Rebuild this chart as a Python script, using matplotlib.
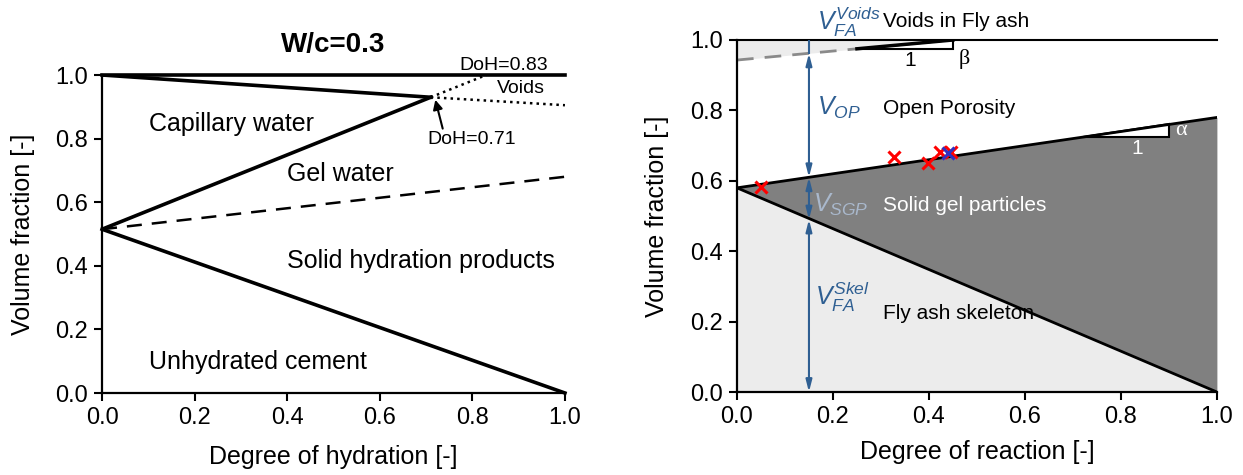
import matplotlib
matplotlib.use('Agg')
import matplotlib.pyplot as plt

plt.rcParams['font.family'] = ['Liberation Sans', 'DejaVu Sans']
plt.rcParams['mathtext.fontset'] = 'custom'
plt.rcParams['mathtext.rm'] = 'Liberation Sans'
plt.rcParams['mathtext.it'] = 'Liberation Sans:italic'

# ---- left panel: cement paste, w/c = 0.3 ----
top_x, top_y = [0, 1], [1.0, 1.0]
cap_x, cap_y = [0, 0.71], [1.0, 0.93]
gel_x, gel_y = [0, 0.71], [0.515, 0.93]
cem_x, cem_y = [0, 1], [0.515, 0.0]
gelw_x, gelw_y = [0, 1], [0.515, 0.68]
void_up_x, void_up_y = [0.71, 0.83], [0.93, 1.0]
void_lo_x, void_lo_y = [0.71, 1.0], [0.93, 0.905]

# ---- right panel: fly ash ----
fa_void_x = [0, 0.25, 0.45]
fa_void_y = [0.943, 0.975, 1.0]
sgp_top_x, sgp_top_y = [0, 1], [0.58, 0.78]
skel_x, skel_y = [0, 1], [0.58, 0.0]
meas_x = [0.051, 0.327, 0.399, 0.422, 0.447]
meas_y = [0.583, 0.668, 0.651, 0.683, 0.683]
meas2_x, meas2_y = [0.44], [0.68]
arrow_x = 0.15
arrow_y = [0.0, 0.49, 0.61, 0.962, 1.0]

ticks = [0.0, 0.2, 0.4, 0.6, 0.8, 1.0]
tick_labels = ['0.0', '0.2', '0.4', '0.6', '0.8', '1.0']

LIGHT = '#ececec'
DARK = '#808080'
BLUE = '#2f5f92'

fig = plt.figure(figsize=(12.43, 4.75), dpi=100)
ax1 = fig.add_axes([0.0821, 0.1726, 0.3724, 0.6695])
ax2 = fig.add_axes([0.5929, 0.1747, 0.3861, 0.7411])


def style(ax, xlabel):
    ax.set_xlim(0, 1)
    ax.set_ylim(0, 1)
    ax.spines['top'].set_visible(False)
    ax.spines['right'].set_visible(False)
    for s in ['left', 'bottom']:
        ax.spines[s].set_linewidth(1.6)
    ax.set_xticks(ticks)
    ax.set_xticklabels(tick_labels)
    ax.set_yticks(ticks)
    ax.set_yticklabels(tick_labels)
    ax.tick_params(direction='out', length=6, width=1.5, labelsize=17, pad=4)
    ax.set_xlabel(xlabel, fontsize=18)
    ax.set_ylabel('Volume fraction [-]', fontsize=18)
    ax.xaxis.label.set_va('center')
    ax.yaxis.label.set_va('center')


style(ax1, 'Degree of hydration [-]')
ax1.xaxis.set_label_coords(0.5, -0.2)
ax1.yaxis.set_label_coords(-0.171, 0.5)

lw = 2.6
ax1.plot(top_x, top_y, color='black', lw=lw, clip_on=False)
ax1.plot(cap_x, cap_y, color='black', lw=lw)
ax1.plot(gel_x, gel_y, color='black', lw=lw)
ax1.plot(cem_x, cem_y, color='black', lw=lw, clip_on=False)
ax1.plot(gelw_x, gelw_y, color='black', lw=1.8, dashes=(6, 4))
ax1.plot(void_up_x, void_up_y, color='black', lw=1.8, ls=':')
ax1.plot(void_lo_x, void_lo_y, color='black', lw=1.8, ls=':')

ax1.text(0.5, 1.095, 'W/c=0.3', fontsize=20, fontweight='bold', ha='center', va='center')
ax1.text(0.868, 1.03, 'DoH=0.83', fontsize=14, ha='center', va='center')
ax1.text(0.905, 0.958, 'Voids', fontsize=14, ha='center', va='center')
ax1.annotate('DoH=0.71', xy=(0.72, 0.922), xytext=(0.703, 0.796), fontsize=14,
             ha='left', va='center',
             arrowprops=dict(arrowstyle='-|>', color='black', lw=1.5,
                             shrinkA=0, shrinkB=0, relpos=(0.18, 1.0)))
ax1.text(0.101, 0.846, 'Capillary water', fontsize=18, va='center')
ax1.text(0.40, 0.688, 'Gel water', fontsize=18, va='center')
ax1.text(0.40, 0.415, 'Solid hydration products', fontsize=18, va='center')
ax1.text(0.101, 0.099, 'Unhydrated cement', fontsize=18, va='center')

# right panel
style(ax2, 'Degree of reaction [-]')
ax2.xaxis.set_label_coords(0.5, -0.17)
ax2.yaxis.set_label_coords(-0.167, 0.5)

ax2.fill_between(skel_x, [0, 0], skel_y, color=LIGHT, lw=0)
ax2.fill_between(skel_x, skel_y, sgp_top_y, color=DARK, lw=0)
ax2.fill_between(fa_void_x, fa_void_y, 1.0, color=LIGHT, lw=0)
ax2.plot(sgp_top_x, sgp_top_y, color='black', lw=2)
ax2.plot(skel_x, skel_y, color='black', lw=2)
ax2.plot(fa_void_x[:2], fa_void_y[:2], color='#8a8a8a', lw=2, dashes=(6, 4))
ax2.plot(fa_void_x[1:], fa_void_y[1:], color='black', lw=2.5)
ax2.plot([0, 1], [1, 1], color='black', lw=1.5, clip_on=False)

# slope triangles
bx = [fa_void_x[1], fa_void_x[2], fa_void_x[2]]
by = [fa_void_y[1], fa_void_y[1], fa_void_y[2]]
ax2.fill(bx, by, facecolor='white', edgecolor='black', lw=1.5)
ax2.text(0.36, 0.943, '1', fontsize=15, ha='center', va='center')
ax2.text(0.474, 0.945, '\u03b2', fontsize=16, ha='center', va='center',
         family='Liberation Serif')

tx = [0.72, 0.9, 0.9]
ty = [0.724, 0.724, 0.76]
ax2.fill(tx, ty, facecolor='white', edgecolor='black', lw=1.5)
ax2.text(0.833, 0.692, '1', fontsize=15, ha='center', va='center', color='white')
ax2.text(0.925, 0.742, '\u03b1', fontsize=16, ha='center', va='center', color='white',
         family='Liberation Serif')

# measured points
ax2.plot(meas_x, meas_y, 'x', color='red', ms=9, mew=2.2)
ax2.plot(meas2_x, meas2_y, 'x', color='#3030c0', ms=9, mew=2.2)

# dimension arrows
ax2.plot([arrow_x, arrow_x], [arrow_y[-2], arrow_y[-1]], color=BLUE, lw=1.5)
for y0, y1 in zip(arrow_y[:-2], arrow_y[1:-1]):
    ax2.annotate('', xy=(arrow_x, y1), xytext=(arrow_x, y0),
                 arrowprops=dict(arrowstyle='<|-|>,head_length=0.7,head_width=0.18',
                                 color=BLUE, lw=1.5, shrinkA=0, shrinkB=0))

ax2.text(0.166, 1.05, r'$V_{FA}^{Voids}$', fontsize=18, color=BLUE, va='center')
ax2.text(0.166, 0.806, r'$V_{OP}$', fontsize=18, color=BLUE, va='center')
ax2.text(0.158, 0.531, r'$V_{SGP}$', fontsize=18, color='#a9b8cc', va='center')
ax2.text(0.162, 0.271, r'$V_{FA}^{Skel}$', fontsize=18, color=BLUE, va='center')

ax2.text(0.305, 1.052, 'Voids in Fly ash', fontsize=15, va='center')
ax2.text(0.305, 0.806, 'Open Porosity', fontsize=15, va='center')
ax2.text(0.305, 0.531, 'Solid gel particles', fontsize=15, va='center', color='white')
ax2.text(0.305, 0.224, 'Fly ash skeleton', fontsize=15, va='center')

fig.savefig('out.png', dpi=100)
